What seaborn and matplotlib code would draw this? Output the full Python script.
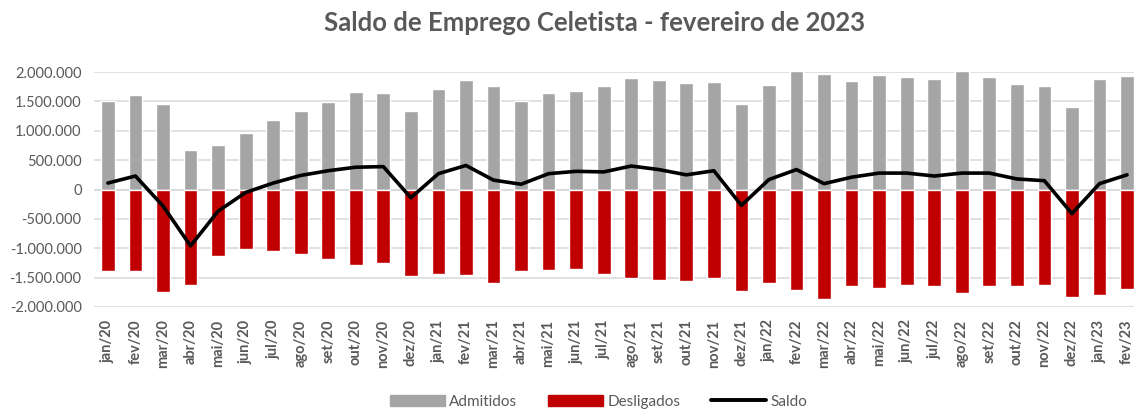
import numpy as np
import pandas as pd
import seaborn as sns
import matplotlib.pyplot as plt
from matplotlib.patches import Patch
from matplotlib.lines import Line2D
from matplotlib.ticker import FuncFormatter, MultipleLocator

# Monthly data (in millions)
meses = ['jan/20', 'fev/20', 'mar/20', 'abr/20', 'mai/20', 'jun/20', 'jul/20', 'ago/20',
         'set/20', 'out/20', 'nov/20', 'dez/20', 'jan/21', 'fev/21', 'mar/21', 'abr/21',
         'mai/21', 'jun/21', 'jul/21', 'ago/21', 'set/21', 'out/21', 'nov/21', 'dez/21',
         'jan/22', 'fev/22', 'mar/22', 'abr/22', 'mai/22', 'jun/22', 'jul/22', 'ago/22',
         'set/22', 'out/22', 'nov/22', 'dez/22', 'jan/23', 'fev/23']

admitidos = [1.51, 1.61, 1.46, 0.67, 0.76, 0.96, 1.18, 1.33, 1.49, 1.66, 1.65, 1.33,
             1.71, 1.86, 1.76, 1.50, 1.64, 1.68, 1.76, 1.90, 1.87, 1.82, 1.83, 1.46,
             1.78, 2.02, 1.97, 1.85, 1.95, 1.91, 1.88, 2.02, 1.92, 1.80, 1.76, 1.40,
             1.89, 1.94]

desligados = [-1.39, -1.38, -1.74, -1.63, -1.14, -1.01, -1.05, -1.10, -1.18, -1.28, -1.26, -1.48,
              -1.44, -1.46, -1.59, -1.39, -1.37, -1.36, -1.44, -1.51, -1.54, -1.56, -1.51, -1.72,
              -1.60, -1.71, -1.87, -1.65, -1.67, -1.63, -1.65, -1.76, -1.64, -1.64, -1.62, -1.83,
              -1.79, -1.69]

saldo = [0.11, 0.23, -0.28, -0.96, -0.37, -0.05, 0.11, 0.24, 0.32, 0.38, 0.39, -0.14,
         0.27, 0.41, 0.16, 0.09, 0.27, 0.31, 0.30, 0.40, 0.34, 0.25, 0.32, -0.27,
         0.17, 0.34, 0.10, 0.21, 0.28, 0.28, 0.23, 0.28, 0.28, 0.18, 0.15, -0.41,
         0.10, 0.25]

cinza = '#A5A5A5'
vermelho = '#C00000'
texto = '#595959'

df = pd.DataFrame({'mes': meses,
                   'Admitidos': np.array(admitidos) * 1e6,
                   'Desligados': np.array(desligados) * 1e6,
                   'Saldo': np.array(saldo) * 1e6})
longo = df.melt(id_vars='mes', value_vars=['Admitidos', 'Desligados'],
                var_name='serie', value_name='valor')

sns.set_style('white')
plt.rcParams['font.family'] = ['Lato', 'DejaVu Sans']

fig = plt.figure(figsize=(11.34, 4.12), dpi=100)
ax = fig.add_axes([0.083, 0.255, 0.923, 0.570])

sns.barplot(data=longo, x='mes', y='valor', hue='serie', dodge=False,
            palette={'Admitidos': cinza, 'Desligados': vermelho}, saturation=1,
            width=0.5, ax=ax, legend=False, zorder=2)
sns.lineplot(x=np.arange(len(meses)), y=df['Saldo'], color='black',
             linewidth=2.6, ax=ax, zorder=4)

ax.set_ylim(-2e6, 2e6)
ax.set_xlim(-0.5, len(meses) - 0.5)
ax.yaxis.set_major_locator(MultipleLocator(5e5))
ax.yaxis.set_major_formatter(FuncFormatter(lambda v, p: f'{v:,.0f}'.replace(',', '.')))
ax.grid(axis='y', color='#D9D9D9', linewidth=1.1, zorder=0)
ax.set_axisbelow(True)
ax.axhline(0, color='#D9D9D9', linewidth=1.1, zorder=1)
for s in ax.spines.values():
    s.set_visible(False)

ax.set_xlabel('')
ax.set_ylabel('')
ax.tick_params(axis='y', length=0, labelsize=10.5, labelcolor=texto, pad=9)
ax.tick_params(axis='x', length=0, labelsize=10.5, labelcolor=texto, pad=9)
ax.set_xticks(range(len(meses)))
ax.set_xticklabels(meses, rotation=90, fontweight='bold')

fig.text(0.524, 0.945, 'Saldo de Emprego Celetista - fevereiro de 2023',
         ha='center', va='center', fontsize=18.5, fontweight='bold', color=texto)

handles = [Patch(color=cinza, label='Admitidos'),
           Patch(color=vermelho, label='Desligados'),
           Line2D([], [], color='black', linewidth=2.8, label='Saldo')]
leg = fig.legend(handles=handles, loc='center', bbox_to_anchor=(0.528, 0.025), ncol=3,
                 frameon=False, fontsize=11, handlelength=3.6, handleheight=0.75,
                 columnspacing=2.0, handletextpad=0.3)
for t in leg.get_texts():
    t.set_color(texto)

fig.savefig('out.png', dpi=100)
